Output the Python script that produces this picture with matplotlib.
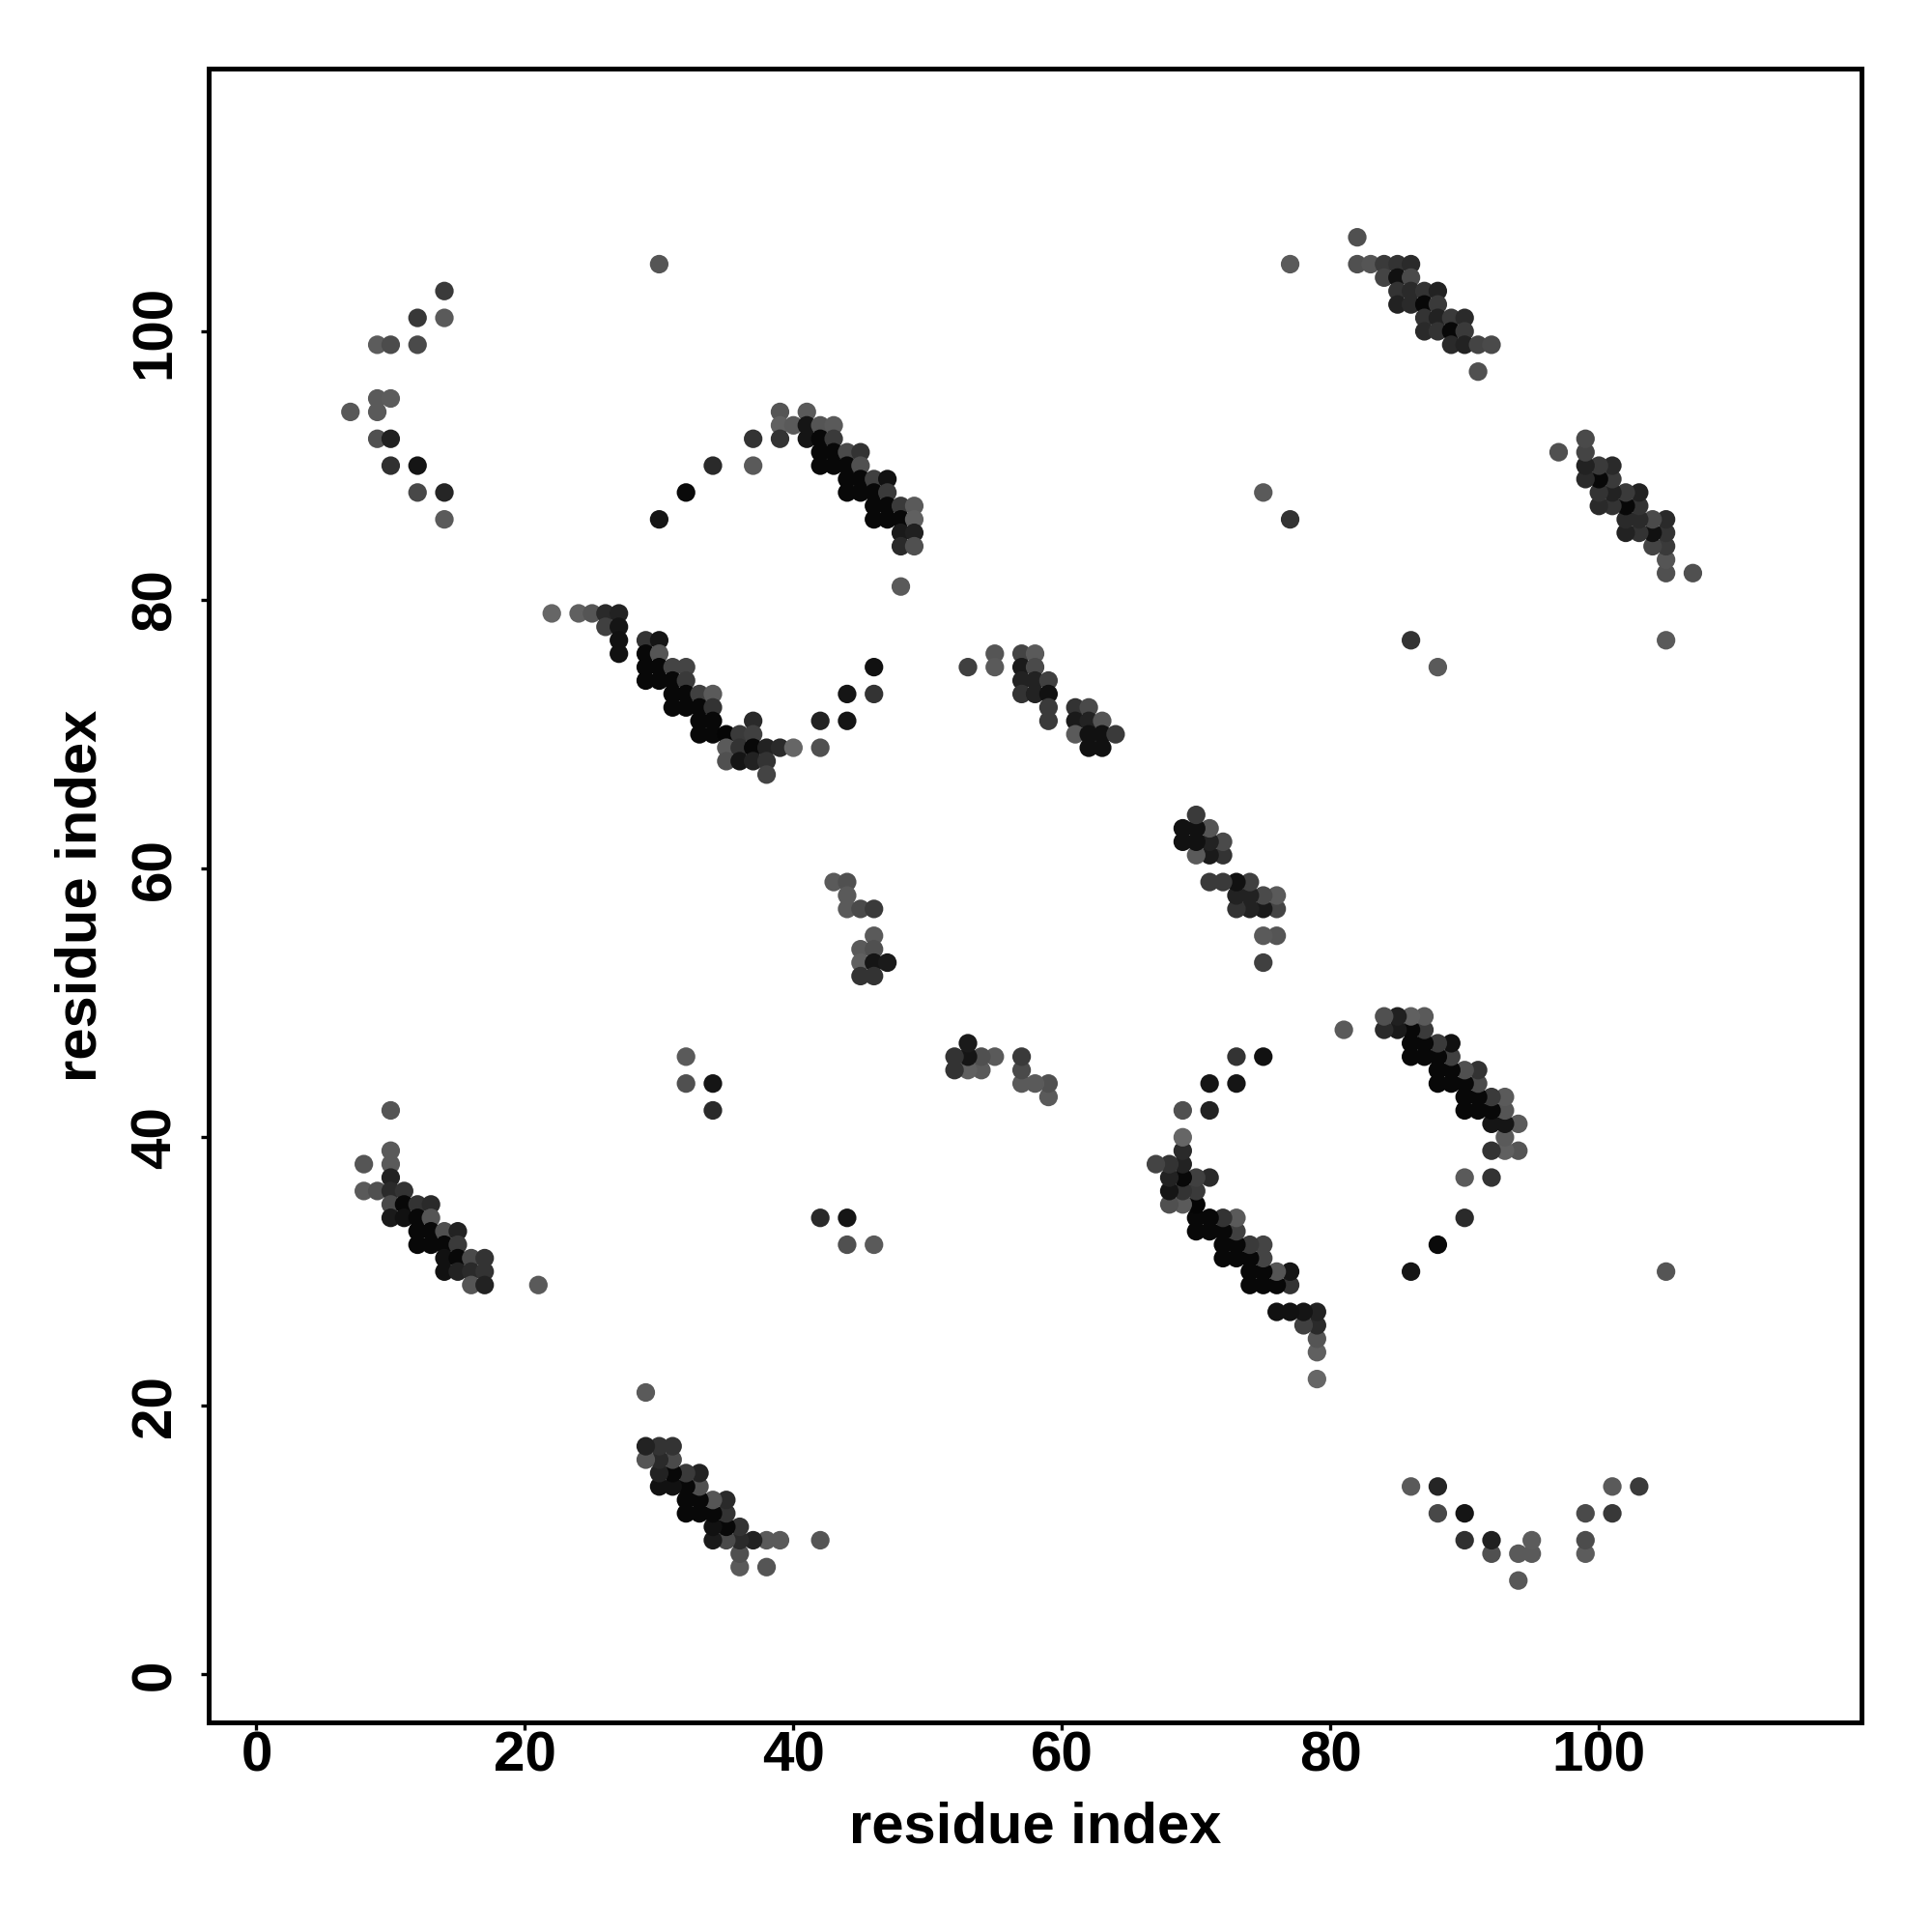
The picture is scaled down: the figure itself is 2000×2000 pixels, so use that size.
import matplotlib
matplotlib.use("Agg")
import matplotlib.pyplot as plt
import numpy as np

# Upper-triangle contacts (residue i < residue j) and their grey level (0-255)
res_i = [14,12,14,9,10,12,9,10,7,9,9,10,10,12,12,14,14,
         30,
         30,32,34,37,37,39,41,39,40,41,42,43,39,41,42,43,42,43,44,45,42,43,44,45,
         44,45,46,47,44,45,46,47,46,47,48,49,46,47,48,49,48,49,48,49,48,
         22,24,25,26,27,26,27,27,27,29,30,29,30,29,30,31,32,29,30,31,32,
         31,32,33,34,31,32,33,34,33,34,37,33,34,35,36,37,35,36,37,38,39,40,
         35,36,37,38,38,42,42,44,44,46,46,
         43,44,44,44,45,46,46,45,46,45,46,47,45,46,
         32,32,34,34,
         10,10,10,8,10,8,9,10,11,10,11,12,13,10,11,12,13,12,13,14,15,12,13,14,15,
         14,15,16,17,14,15,16,17,16,17,21,
         53,55,55,57,58,57,58,57,58,59,57,58,59,59,59,61,62,61,62,63,61,62,63,64,62,63,
         77,75,77,
         82,82,83,84,85,86,84,85,86,85,86,87,88,85,86,87,88,87,88,89,90,87,88,89,90,
         89,90,91,92,91]
res_j = [103,101,101,99,99,99,95,95,94,94,92,92,90,90,88,88,86,
         105,
         86,88,90,92,90,94,94,93,93,93,93,93,92,92,92,92,91,91,91,91,90,90,90,90,
         89,89,89,89,88,88,88,88,87,87,87,87,86,86,86,86,85,85,84,84,81,
         79,79,79,79,79,78,78,77,76,77,77,76,76,75,75,75,75,74,74,74,74,
         73,73,73,73,72,72,72,72,71,71,71,70,70,70,70,70,69,69,69,69,69,69,
         68,68,68,68,67,71,69,71,73,73,75,
         59,59,58,57,57,57,55,54,54,53,53,53,52,52,
         46,44,44,42,
         42,39,38,38,37,36,36,36,36,35,35,35,35,34,34,34,34,33,33,33,33,32,32,32,32,
         31,31,31,31,30,30,30,30,29,29,29,
         75,76,75,76,76,75,75,74,74,74,73,73,73,72,71,72,72,71,71,71,70,70,70,70,69,69,
         105,88,86,
         107,105,105,105,105,105,104,104,104,103,103,103,103,102,102,102,102,101,101,101,101,100,100,100,100,
         99,99,99,99,97]
grey = [0x3a,0x38,0x5a,0x5c,0x4c,0x4a,0x5a,0x5c,0x58,0x5a,0x50,0x20,0x30,0x15,0x48,0x25,0x5a,
        0x55,
        0x15,0x0a,0x2a,0x33,0x5a,0x55,0x5a,0x60,0x5a,0x15,0x55,0x5a,0x33,0x15,0x08,0x3a,0x08,0x08,0x4a,0x33,0x08,0x08,0x08,0x50,
        0x08,0x08,0x40,0x11,0x08,0x08,0x08,0x3a,0x08,0x08,0x3a,0x5a,0x08,0x08,0x08,0x60,0x1a,0x20,0x2a,0x50,0x5a,
        0x66,0x60,0x55,0x2a,0x22,0x40,0x15,0x11,0x11,0x33,0x15,0x08,0x55,0x08,0x08,0x44,0x44,0x08,0x08,0x08,0x3a,
        0x08,0x08,0x40,0x5a,0x08,0x08,0x08,0x33,0x08,0x08,0x2a,0x08,0x08,0x05,0x3a,0x40,0x5a,0x33,0x08,0x22,0x2a,0x66,
        0x50,0x15,0x22,0x33,0x44,0x22,0x50,0x15,0x15,0x33,0x11,
        0x5a,0x50,0x5a,0x5a,0x4a,0x3a,0x5a,0x5a,0x50,0x60,0x15,0x1a,0x33,0x33,
        0x5a,0x50,0x15,0x2a,
        0x55,0x5a,0x5a,0x55,0x22,0x5a,0x50,0x2a,0x33,0x4a,0x08,0x33,0x2a,0x1a,0x11,0x08,0x55,0x08,0x08,0x50,0x22,0x08,0x08,0x08,0x3a,
        0x11,0x08,0x4a,0x33,0x11,0x22,0x2a,0x33,0x55,0x22,0x5a,
        0x40,0x55,0x5a,0x44,0x5a,0x1a,0x4a,0x22,0x22,0x40,0x33,0x22,0x11,0x3a,0x3a,0x33,0x4a,0x1a,0x22,0x55,0x5a,0x11,0x11,0x3a,0x11,0x11,
        0x5a,0x5a,0x33,
        0x50,0x50,0x55,0x3a,0x33,0x2a,0x44,0x11,0x4a,0x33,0x2a,0x33,0x22,0x22,0x2a,0x08,0x3a,0x33,0x22,0x3a,0x2a,0x2a,0x33,0x08,0x3a,
        0x2a,0x22,0x44,0x4a,0x50]

axis_label = "residue index"
ticks = [0, 20, 40, 60, 80, 100]
n_res = 115

fontfam = ['Liberation Sans', 'DejaVu Sans']
plt.rcParams['font.family'] = fontfam
plt.rcParams['font.weight'] = 'bold'

fig = plt.figure(figsize=(10, 10), dpi=200)
ax = fig.add_axes([0.108, 0.1085, 0.8555, 0.856])

xi = np.array(res_i + res_j)
yj = np.array(res_j + res_i)
g = np.array(grey + grey) / 255.0
cols = np.stack([g, g, g], axis=1)
ax.scatter(xi, yj, s=48, c=cols, linewidths=0, zorder=3)

pad = 0.04 * (n_res - 1)
ax.set_xlim(1 - pad, n_res + pad)
ax.set_ylim(1 - pad, n_res + pad)

ax.set_xticks(ticks)
ax.set_yticks(ticks)
ax.tick_params(axis='both', direction='out', length=3, width=1.2, labelsize=21)
ax.tick_params(axis='x', pad=0)
ax.tick_params(axis='y', pad=7, labelrotation=90)
for lab in ax.get_yticklabels():
    lab.set_va('center')
for lab in ax.get_xticklabels() + ax.get_yticklabels():
    lab.set_fontweight('bold')

for sp in ax.spines.values():
    sp.set_linewidth(1.8)

ax.set_xlabel(axis_label, fontsize=21.5, fontweight='bold', labelpad=7)
ax.set_ylabel(axis_label, fontsize=21.5, fontweight='bold', labelpad=8)

fig.savefig("out.png", dpi=200, facecolor='white')
